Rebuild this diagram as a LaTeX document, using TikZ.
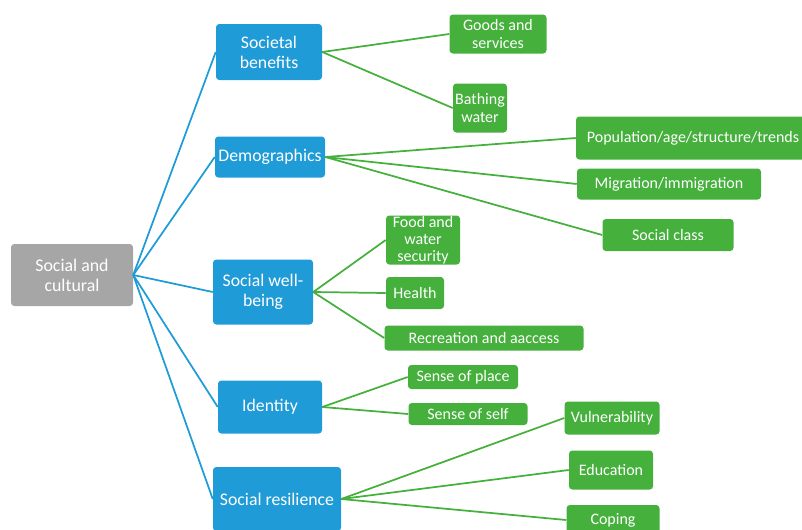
\documentclass[tikz,border=0pt]{standalone}
\usepackage{fontspec}
\setmainfont{Carlito}
\definecolor{boxgray}{RGB}{166,166,166}
\definecolor{topicblue}{RGB}{31,155,215}
\definecolor{leafgreen}{RGB}{69,176,60}
\tikzset{
  base/.style={rounded corners=2.5pt, text=white, align=center, inner sep=0pt},
  wh/.style 2 args={minimum width=#1*0.75pt, minimum height=#2*0.75pt},
  rootbox/.style={base, fill=boxgray, font=\fontsize{13.4}{15}\selectfont},
  topic/.style={base, fill=topicblue, font=\fontsize{13.3}{15}\selectfont},
  leaf/.style={base, fill=leafgreen, font=\fontsize{12}{12.9}\selectfont},
  bluelink/.style={topicblue, line width=1.3pt},
  greenlink/.style={leafgreen, line width=1.3pt}
}
\begin{document}
\begin{tikzpicture}[x=0.75pt,y=-0.75pt]
  \useasboundingbox (0,0) rectangle (802,529);
  \clip (0,0) rectangle (802,529);
  % root and topics
  \node[rootbox, wh={122}{62}] (root) at (72,275) {Social and\\cultural};
  \node[topic, wh={106}{56}] (benefits) at (269,52) {Societal\\benefits};
  \node[topic, wh={110}{41}] (demo) at (270,157) {Demographics};
  \node[topic, wh={100}{65}] (wellbeing) at (263,292) {Social well-\\being};
  \node[topic, wh={104}{53}] (identity) at (270,407) {Identity};
  \node[topic, wh={128}{64}] (resilience) at (277,499) {Social resilience};
  % leaves
  \node[leaf, wh={97}{39}] (goods) at (498,34) {Goods and\\services};
  \node[leaf, wh={54}{49}] (bathing) at (480,108) {Bathing\\water};
  \node[leaf, wh={234}{43}] (population) at (693,138) {Population/age/structure/trends};
  \node[leaf, wh={184}{31}] (migration) at (669,184) {Migration/immigration};
  \node[leaf, wh={131}{32}] (class) at (668,235) {Social class};
  \node[leaf, wh={74}{49}] (food) at (423,240) {Food and\\water\\security};
  \node[leaf, wh={58}{32}] (health) at (415,293) {Health};
  \node[leaf, wh={199}{25}] (recreation) at (484,338) {Recreation and aaccess};
  \node[leaf, wh={110}{24}] (place) at (463,377) {Sense of place};
  \node[leaf, wh={119}{22}] (self) at (468,414) {Sense of self};
  \node[leaf, wh={95}{33}] (vulnerability) at (612,418) {Vulnerability};
  \node[leaf, wh={84}{39}] (education) at (611,470) {Education};
  \node[leaf, wh={93}{30}] (coping) at (613,520) {Coping};
  % connectors
  \foreach \t in {benefits,demo,wellbeing,identity,resilience}
    \draw[bluelink] (root.east) -- (\t.west);
  \foreach \p/\c in {benefits/goods, benefits/bathing, demo/population, demo/migration,
      demo/class, wellbeing/food, wellbeing/health, wellbeing/recreation,
      identity/place, identity/self, resilience/vulnerability,
      resilience/education, resilience/coping}
    \draw[greenlink] (\p.east) -- (\c.west);
\end{tikzpicture}
\end{document}
